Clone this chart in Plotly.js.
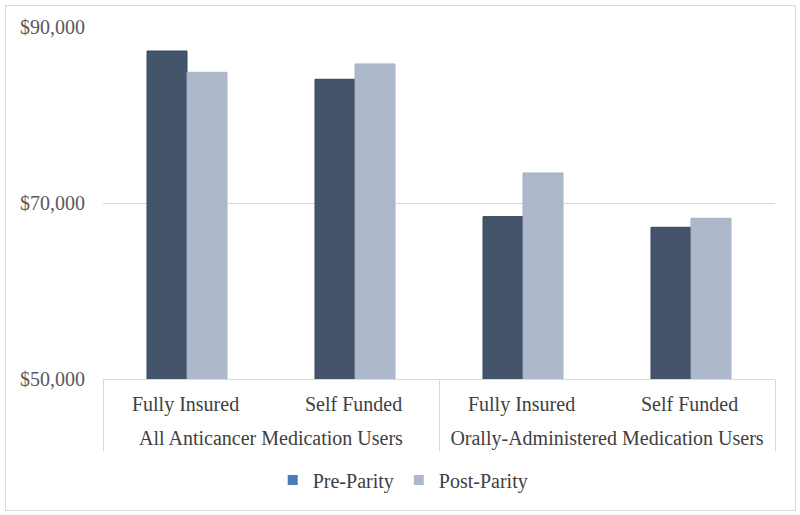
<!DOCTYPE html>
<html>
<head>
<meta charset="utf-8">
<script src="https://cdn.plot.ly/plotly-3.0.1.min.js"></script>
<style>
html,body{margin:0;padding:0;background:#fff;}
#wrap{position:relative;width:800px;height:515px;}
#chart{width:800px;height:515px;}
#frame{position:absolute;left:5px;top:5px;width:789px;height:504px;border:1px solid #d9d9d9;pointer-events:none;}
</style>
</head>
<body>
<div id="wrap"><div id="chart"></div><div id="frame"></div></div>
<script>
var groups = ["All Anticancer Medication Users","All Anticancer Medication Users","Orally-Administered Medication Users","Orally-Administered Medication Users"];
var subgroups = ["Fully Insured","Self Funded","Fully Insured","Self Funded"];
var preParity = [87270, 84060, 68450, 67240];
var postParity = [84850, 85800, 73410, 68260];
var seriesNames = ["Pre-Parity","Post-Parity"];
var yTicks = [50000, 70000, 90000];
var yTickText = ["&#36;50,000", "&#36;70,000", "&#36;90,000"];

var font = "'Liberation Serif', 'Times New Roman', serif";
// a tall hair-space widens the gap between the two label levels
var spacer = '<span style="font-size:35px">&#8202;</span>';
var x = [groups, subgroups.map(function(s){return s + spacer;})];
var nulls = subgroups.map(function(){return null;});

var data = [
  {type:'bar', x:x, y:preParity, name:seriesNames[0], showlegend:false,
   marker:{color:'#44546A', line:{color:'#36445a', width:1}}},
  {type:'bar', x:x, y:postParity, name:seriesNames[1], showlegend:false,
   marker:{color:'#ADB9CA', line:{color:'#a4b1c3', width:1}}},
  {type:'scatter', mode:'markers', x:x, y:nulls, name:seriesNames[0],
   marker:{symbol:'square', size:10, color:'#4A7EBB'}},
  {type:'scatter', mode:'markers', x:x, y:nulls, name:seriesNames[1],
   marker:{symbol:'square', size:10, color:'#ADB9CA'}}
];

var layout = {
  width:800, height:515,
  margin:{l:103, r:25, t:27, b:136},
  paper_bgcolor:'#fff', plot_bgcolor:'#fff',
  font:{family:font, size:20, color:'#404040'},
  barmode:'group', bargap:0.524, bargroupgap:0,
  showlegend:true,
  legend:{orientation:'h', x:0.446, xanchor:'center', y:-0.287, yanchor:'middle',
          font:{family:font, size:20, color:'#404040'}, itemwidth:30, traceorder:'normal'},
  xaxis:{type:'multicategory', showline:true, linecolor:'#d9d9d9', linewidth:1,
         showdividers:true, dividercolor:'#d9d9d9', dividerwidth:1, ticklabelstandoff:7,
         tickfont:{family:font, size:20, color:'#404040'}, ticks:'', showgrid:false, zeroline:false, fixedrange:true},
  yaxis:{range:[50000, 90000], tickmode:'array', tickvals:yTicks, ticktext:yTickText,
         showgrid:true, gridcolor:'#d9d9d9', gridwidth:1, zeroline:false, showline:false,
         tickfont:{family:font, size:20, color:'#595959'}, ticklabelstandoff:17, fixedrange:true}
};

Plotly.newPlot('chart', data, layout, {displayModeBar:false, staticPlot:true});
</script>
</body>
</html>
